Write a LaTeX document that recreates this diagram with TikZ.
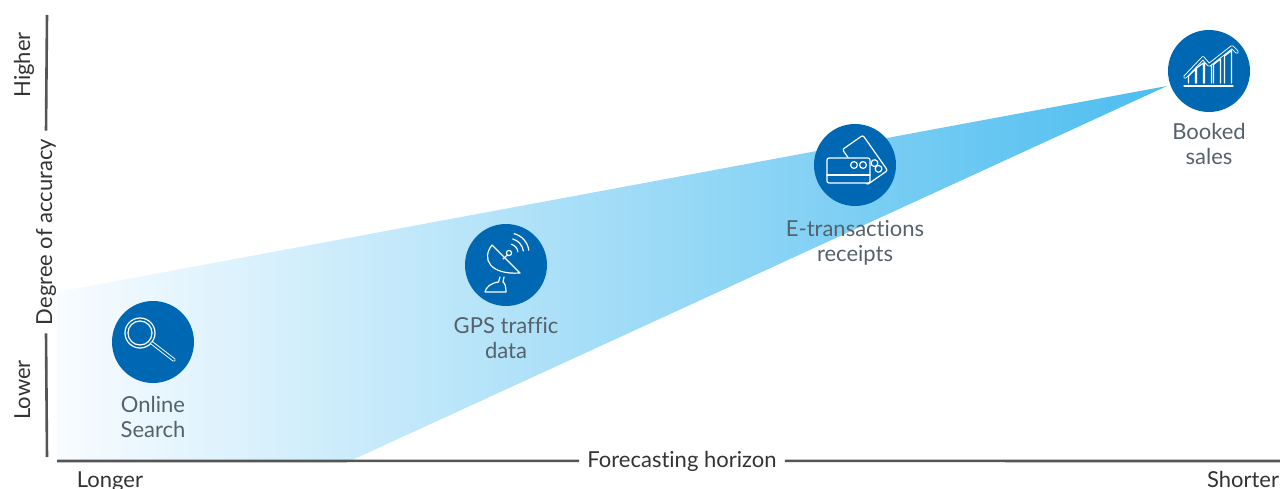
\documentclass[tikz,border=0pt]{standalone}
\usepackage{fontspec}
\setmainfont{Lato}[Ligatures=NoCommon]
\usepackage{xcolor}
\usepackage{tikz}
\usetikzlibrary{positioning}
\definecolor{dotblue}{HTML}{0068B3}
\definecolor{labelgray}{HTML}{56626B}
\definecolor{axisgray}{HTML}{555555}
\definecolor{textdark}{HTML}{333333}
\definecolor{paleblue}{HTML}{F8FCFF}
\definecolor{skyblue}{HTML}{4CBDEF}

\begin{document}
\begin{tikzpicture}[x=1pt,y=-1pt,
		dot/.style={circle,fill=dotblue,minimum size=82pt,inner sep=0pt},
		iconlabel/.style={align=center,inner sep=0pt,text=labelgray,font=\fontsize{22}{25}\selectfont},
		axislabel/.style={text=textdark,inner xsep=8pt,inner ysep=0pt,font=\fontsize{22}{26}\selectfont},
		axisline/.style={axisgray,line width=2.6pt},
		icon/.style={white,line width=1.2pt,line cap=round,line join=round},
		twin/.style={white,line width=0.9pt,double=dotblue,double distance=1.8pt,line cap=round,line join=round}]
		\useasboundingbox (0,0) rectangle (1280,489);
		\shade[left color=paleblue,right color=skyblue] (57,292) -- (1167,86) -- (350,461) -- (57,461) -- cycle;

		\coordinate (v bottom) at (47,457);
		\coordinate (v top) at (47,15);
		\coordinate (h left) at (57,461);
		\coordinate (h right) at (1280,461);
		\node[axislabel,rotate=90,anchor=base] (accuracy) at (52,232) {Degree of accuracy};
		\node[axislabel,rotate=90,anchor=base] (higher) at (30,65) {Higher};
		\node[axislabel,rotate=90,anchor=base] (lower) at (30,390) {Lower};
		\draw[axisline] (v bottom) -- (accuracy.west);
		\draw[axisline] (accuracy.east) -- (v top);
		\node[axislabel,anchor=base] (horizon) at (682,467) {Forecasting horizon};
		\draw[axisline] (h left) -- (horizon.west);
		\draw[axisline] (horizon.east) -- (h right);
		\node[axislabel,anchor=base] (longer) at (110,487) {Longer};
		\node[axislabel,anchor=base] (shorter) at (1243,487) {Shorter};

		\node[dot] (search) at (153,342) {};
		\node[dot] (gps) at (506,265) {};
		\node[dot] (etrans) at (855,165) {};
		\node[dot] (booked) at (1209,71) {};
		\node[iconlabel,below=13pt of search] (search text) {Online\\Search};
		\node[iconlabel,below=11pt of gps] (gps text) {GPS traffic\\data};
		\node[iconlabel,below=14pt of etrans] (etrans text) {E-transactions\\receipts};
		\node[iconlabel,below=11pt of booked] (booked text) {Booked\\sales};

		\begin{scope}[shift={(search.center)}]
			\draw[icon] (-13,-9) circle[radius=15];
			\draw[icon] (-13,-9) circle[radius=12];
			\draw[twin] (-1,1) -- (21,18);
		\end{scope}

		\begin{scope}[shift={(gps.center)}]
			\draw[icon] (-14,-20) .. controls (-25,-6) and (-16,10) .. (14,8) -- cycle;
			\draw[icon] (-3,-6) -- (1.5,-10);
			\draw[icon] (3,-12) circle[radius=2.6];
			\foreach \r in {9,14.5,20}
				\draw[icon] (3,-12) ++(-75:\r) arc[start angle=-75,end angle=-8,radius=\r];
			\draw[icon] (-6,12) -- (-7.5,17) .. controls (-15,18) and (-20,22) .. (-21,27) -- (0,27) .. controls (0,22) and (-1,18) .. (-3,17) -- (-2,12);
		\end{scope}

		\begin{scope}[shift={(etrans.center)}]
			\begin{scope}[shift={(10,-5)},rotate=-55]
				\filldraw[icon,fill=dotblue,rounded corners=2pt] (-21.5,-12.5) rectangle (21.5,12.5);
				\draw[icon] (8,-6) circle[radius=3.4];
				\draw[icon] (15,-6) circle[radius=3.4];
			\end{scope}
			\filldraw[icon,fill=dotblue,rounded corners=2pt] (-28,-7) rectangle (15,18);
			\draw[icon] (-28,10) -- (15,10);
			\draw[icon] (-1,0) circle[radius=3.4];
			\draw[icon] (8,0) circle[radius=3.4];
		\end{scope}

		\begin{scope}[shift={(booked.center)}]
			\draw[icon] (-25,15) -- (24,15);
			\foreach \x/\a/\b in {-17/5/-2,-9/-3/-8,-1/-8/-5,8/-6.5/-12,19/-15/-20.5}
				\draw[icon] (\x-3.5,12) -- (\x-3.5,\a) -- (\x+3.5,\b) -- (\x+3.5,12);
			\draw[twin] (-24,6) -- (-6,-13) -- (0,-6) -- (23,-24) -- (28,-19);
		\end{scope}
	\end{tikzpicture}
\end{document}
